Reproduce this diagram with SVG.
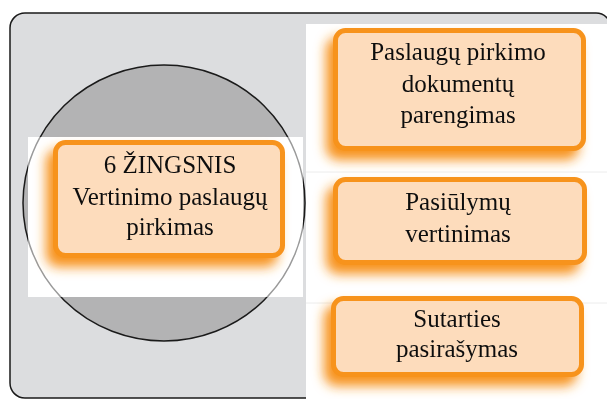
<svg xmlns="http://www.w3.org/2000/svg" width="607" height="399" viewBox="0 0 607 399">
  <defs>
    <filter id="glow" x="-25%" y="-35%" width="150%" height="180%">
      <feGaussianBlur in="SourceAlpha" stdDeviation="6"/>
      <feOffset dx="-7" dy="9" result="b"/>
      <feFlood flood-color="#f7931e" flood-opacity="1"/>
      <feComposite in2="b" operator="in" result="s"/>
      <feMerge>
        <feMergeNode in="s"/>
        <feMergeNode in="SourceGraphic"/>
      </feMerge>
    </filter>
    <clipPath id="bandClip">
      <rect x="28" y="137" width="275" height="160"/>
    </clipPath>
  </defs>
  <style>
    .box { fill: #fddcbc; stroke: #f7931e; stroke-width: 5; }
    .lbl { font-size: 25px; fill: #111111; text-anchor: middle; }
    .sep { stroke: #ececec; stroke-width: 1; }
  </style>

  <!-- frame -->
  <rect x="10" y="13" width="601" height="385" rx="15" fill="#dcdddf" stroke="#1a1a1a" stroke-width="1.5"/>

  <!-- circle behind the step label -->
  <ellipse cx="164" cy="203" rx="141" ry="138" fill="#b3b3b4" stroke="#1a1a1a" stroke-width="1.5"/>
  <rect x="28" y="137" width="275" height="160" fill="#ffffff"/>
  <ellipse cx="164" cy="203" rx="141" ry="138" fill="none" stroke="#9a9a9a" stroke-width="1.5" clip-path="url(#bandClip)"/>

  <!-- right column panel -->
  <rect x="306" y="24" width="301" height="375" fill="#ffffff"/>
  <line class="sep" x1="306" y1="172" x2="607" y2="172"/>
  <line class="sep" x1="306" y1="303" x2="607" y2="303"/>

  <g font-family="'Liberation Serif', 'Times New Roman', serif">
    <g id="step6" filter="url(#glow)">
      <rect class="box" x="55.5" y="142.5" width="227" height="113" rx="10"/>
      <text class="lbl" x="170" y="173">6 ŽINGSNIS</text>
      <text class="lbl" x="170" y="205">Vertinimo paslaugų</text>
      <text class="lbl" x="170" y="235">pirkimas</text>
    </g>

    <g id="docs" filter="url(#glow)">
      <rect class="box" x="335.5" y="30.5" width="248" height="118" rx="10"/>
      <text class="lbl" x="458" y="60">Paslaugų pirkimo</text>
      <text class="lbl" x="458" y="92">dokumentų</text>
      <text class="lbl" x="458" y="123">parengimas</text>
    </g>

    <g id="evaluation" filter="url(#glow)">
      <rect class="box" x="335.5" y="179.5" width="249" height="83" rx="10"/>
      <text class="lbl" x="458" y="210">Pasiūlymų</text>
      <text class="lbl" x="458" y="242">vertinimas</text>
    </g>

    <g id="contract" filter="url(#glow)">
      <rect class="box" x="333.5" y="298.5" width="248" height="76" rx="10"/>
      <text class="lbl" x="457" y="327">Sutarties</text>
      <text class="lbl" x="457" y="357">pasirašymas</text>
    </g>
  </g>

  <g id="connectors"/>
</svg>
